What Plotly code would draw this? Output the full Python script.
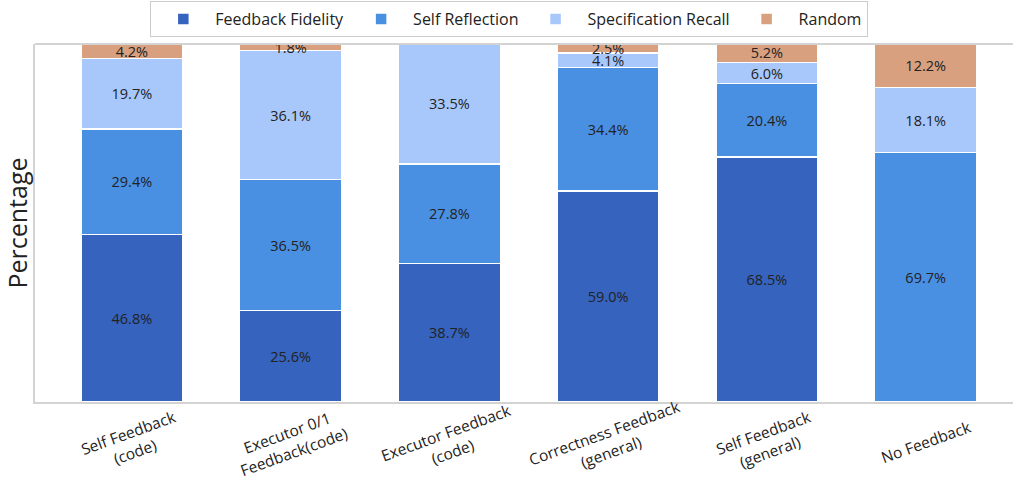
import plotly.graph_objects as go

categories = [
    "Self Feedback<br>(code)",
    "Executor 0/1<br>Feedback(code)",
    "Executor Feedback<br>(code)",
    "Correctness Feedback<br>(general)",
    "Self Feedback<br>(general)",
    "No Feedback",
]

feedback_fidelity = [46.8, 25.6, 38.7, 59.0, 68.5, 0.0]
self_reflection = [29.4, 36.5, 27.8, 34.4, 20.4, 69.7]
specification_recall = [19.7, 36.1, 33.5, 4.1, 6.0, 18.1]
random_share = [4.2, 1.8, 0.0, 2.5, 5.2, 12.2]

series = [
    ("Feedback Fidelity", feedback_fidelity, "#3563BE"),
    ("Self Reflection", self_reflection, "#4A90E2"),
    ("Specification Recall", specification_recall, "#A8C8FC"),
    ("Random", random_share, "#D9A07F"),
]

FONT = "Open Sans"
TEXT_COLOR = "#222222"
FRAME_COLOR = "#D3D3D3"

fig = go.Figure()
for name, values, color in series:
    ys = [v if v > 0 else None for v in values]
    labels = [f"{v:.1f}%" if v > 0 else "" for v in values]
    fig.add_trace(go.Bar(
        name=name,
        x=categories,
        y=ys,
        text=labels,
        textposition="inside",
        insidetextanchor="middle",
        constraintext="none",
        textangle=0,
        textfont=dict(family=FONT, size=14.5, color=TEXT_COLOR),
        marker=dict(color=color, line=dict(color="white", width=1.5)),
        cliponaxis=True,
    ))

# Rotated category labels centred under each bar
for cat in categories:
    fig.add_annotation(
        x=cat, y=0, xref="x", yref="paper",
        text=cat, showarrow=False,
        textangle=-20,
        xanchor="center", yanchor="middle",
        yshift=-40,
        font=dict(family=FONT, size=15.5, color=TEXT_COLOR),
    )

# Top border of the plotting area
fig.add_shape(
    type="line", xref="paper", yref="paper",
    x0=0, x1=1, y0=1, y1=1,
    line=dict(color=FRAME_COLOR, width=2),
)

fig.update_layout(
    barmode="stack",
    bargap=0.358,
    width=1013,
    height=491,
    margin=dict(l=35, r=0, t=44, b=89, autoexpand=False),
    paper_bgcolor="white",
    plot_bgcolor="white",
    font=dict(family=FONT, color=TEXT_COLOR),
    legend=dict(
        orientation="h",
        x=0.485, xanchor="center",
        y=0.998, yanchor="top",
        yref="container",
        bordercolor="#CCCCCC",
        borderwidth=1,
        itemwidth=54,
        font=dict(family=FONT, size=16, color=TEXT_COLOR),
        traceorder="normal",
    ),
    xaxis=dict(
        range=[-0.61, 5.55],
        automargin=False,
        showline=True,
        linecolor=FRAME_COLOR,
        linewidth=2,
        mirror=False,
        showgrid=False,
        ticks="",
        showticklabels=False,
    ),
    yaxis=dict(
        range=[0, 100],
        automargin=False,
        showline=True,
        linecolor=FRAME_COLOR,
        linewidth=2,
        mirror=False,
        showgrid=False,
        zeroline=False,
        showticklabels=False,
        ticks="",
        title=dict(text="Percentage", font=dict(family=FONT, size=25, color=TEXT_COLOR), standoff=6),
    ),
)

fig.write_html("out.html")
